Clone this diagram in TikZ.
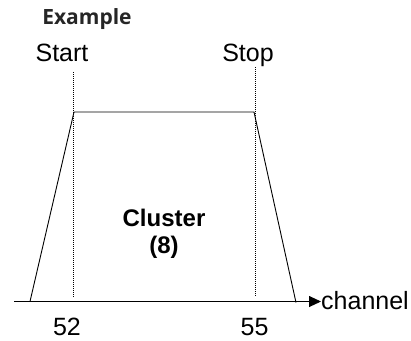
\documentclass[tikz,border=0pt]{standalone}
\usepackage{fontspec}
\setmainfont{Liberation Sans}
\newfontfamily\exfont{Open Sans}
\usetikzlibrary{arrows.meta}
\begin{document}
\begin{tikzpicture}[x=1pt,y=-1pt,
  lbl/.style={font=\fontsize{25}{29}\selectfont, inner sep=0pt},
  shape line/.style={line width=0.9pt},
  marker/.style={line width=0.7pt, dash pattern=on 1pt off 1pt},
  axisline/.style={line width=0.9pt, -{Triangle[length=12pt,width=11pt]}}]
\useasboundingbox (0,0) rectangle (411,340);
% labels
\node[inner sep=0pt, anchor=base, text=black!85, font=\exfont\bfseries\fontsize{21}{25}\selectfont] (ex) at (87,24) {Example};
\node[lbl, anchor=base] (start) at (62,61) {Start};
\node[lbl, anchor=base] (stop) at (248,61) {Stop};
\node[lbl, anchor=base, align=center, font=\bfseries\fontsize{24}{27}\selectfont] (cl) at (164,253) {Cluster\\(8)};
\node[lbl, anchor=base] (n52) at (67,335) {52};
\node[lbl, anchor=base] (n55) at (254.5,335) {55};
\node[lbl, anchor=base west] (ch) at (321,309.5) {channel};
% axis
\coordinate (ax0) at (14,301.5);
\draw[axisline] (ax0) -- (ch.west |- ax0);
% trapezoid
\coordinate (bl) at (30,301.5);
\coordinate (tl) at (74,112);
\coordinate (tr) at (254,112);
\coordinate (br) at (296,302.5);
\draw[shape line] (bl) -- (tl) -- (tr) -- (br);
% markers
\coordinate (m1t) at (73.5,72);
\coordinate (m1b) at (73.5,297);
\coordinate (m2t) at (255,67);
\coordinate (m2b) at (255,297);
\draw[marker] (m1t) -- (m1b);
\draw[marker] (m2t) -- (m2b);
\end{tikzpicture}
\end{document}
